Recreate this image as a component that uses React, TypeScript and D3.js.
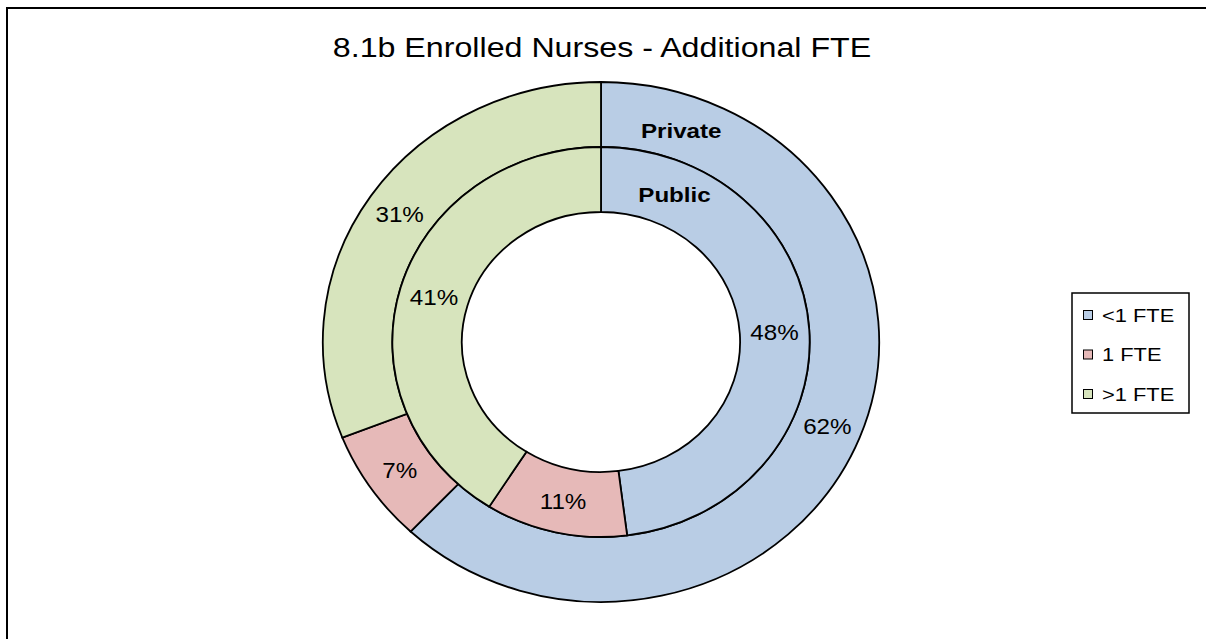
import React from "react";
import * as d3 from "d3";

const categories = ["<1 FTE", "1 FTE", ">1 FTE"];
const privateValues = [62, 7, 31];
const publicValues = [48, 11, 41];
const seriesNames = ["Private", "Public"];
const colors = ["#B9CDE5", "#E6B9B8", "#D7E4BD"];

const W = 1206;
const H = 639;
const cx = 601;
const cy = 342;
const stretch = 1.07; // the donut is slightly wider than tall
const rOuter = 260;
const rMid = 195;
const rHole = 130;

const pie = d3
	.pie<number>()
	.sort(null)
	.value((d) => d);

function Ring({ values, inner, outer }: { values: number[]; inner: number; outer: number }) {
	const arc = d3.arc<d3.PieArcDatum<number>>().innerRadius(inner).outerRadius(outer);
	const arcs = pie(values);
	return (
		<g>
			{arcs.map((a, i) => (
				<path
					key={i}
					d={arc(a) || ""}
					fill={colors[i]}
					stroke="#000"
					strokeWidth={1.8}
					vectorEffect="non-scaling-stroke"
				/>
			))}
		</g>
	);
}

function ringLabels(values: number[], inner: number, outer: number) {
	const arc = d3.arc<d3.PieArcDatum<number>>().innerRadius(inner).outerRadius(outer);
	return pie(values).map((a) => {
		const [x, y] = arc.centroid(a);
		const total = d3.sum(values);
		return {
			x: cx + x * stretch,
			y: cy + y,
			text: Math.round((a.data / total) * 100) + "%",
		};
	});
}

function Label({ x, y, text, size, bold, sx }: any) {
	return (
		<text
			transform={`translate(${x},${y}) scale(${sx},1)`}
			textAnchor="middle"
			dy="0.36em"
			fontSize={size}
			fontWeight={bold ? "bold" : "normal"}
			fill="#000"
		>
			{text}
		</text>
	);
}

export default function App() {
	const outerLabels = ringLabels(privateValues, rMid, rOuter);
	const innerLabels = ringLabels(publicValues, rHole, rMid);

	// series name positions sit inside each ring, just right of twelve o'clock
	const nameAt = (angleDeg: number, r: number) => {
		const t = (angleDeg * Math.PI) / 180;
		return { x: cx + r * Math.sin(t) * stretch, y: cy - r * Math.cos(t) };
	};
	const privPos = nameAt(19.5, (rMid + rOuter) / 2 - 3);
	const pubPos = nameAt(25, (rHole + rMid) / 2);

	const legendY = d3.scalePoint<string>().domain(categories).range([315, 394]);

	return (
		<svg
			width={W}
			height={H}
			style={{ position: "absolute", left: 0, top: 0, background: "#fff" }}
			fontFamily="'Liberation Sans', Arial, sans-serif"
		>
			<rect x={7} y={8} width={W + 20} height={H + 20} fill="#fff" stroke="#000" strokeWidth={2} />

			<Label x={602} y={47} text="8.1b Enrolled Nurses - Additional FTE" size={28} sx={1.15} />

			<g transform={`translate(${cx},${cy}) scale(${stretch},1)`}>
				<Ring values={privateValues} inner={rMid} outer={rOuter} />
				<Ring values={publicValues} inner={rHole} outer={rMid} />
			</g>

			{outerLabels.map((l, i) => (
				<Label key={"o" + i} x={l.x} y={l.y} text={l.text} size={22} sx={1.1} />
			))}
			{innerLabels.map((l, i) => (
				<Label key={"i" + i} x={l.x} y={l.y} text={l.text} size={22} sx={1.1} />
			))}
			<Label x={privPos.x} y={privPos.y} text={seriesNames[0]} size={21} bold sx={1.15} />
			<Label x={pubPos.x} y={pubPos.y} text={seriesNames[1]} size={21} bold sx={1.15} />

			<g>
				<rect x={1072} y={293} width={117} height={120} fill="#fff" stroke="#000" strokeWidth={1.5} />
				{categories.map((c, i) => (
					<g key={c} transform={`translate(0,${legendY(c)})`}>
						<rect x={1083.5} y={-4.5} width={9} height={9} fill={colors[i]} stroke="#000" strokeWidth={1} />
						<text
							x={0}
							y={0}
							dy="0.36em"
							fontSize={19}
							transform="translate(1102,0) scale(1.15,1) translate(-1102,0)"
						>
							<tspan x={1102}>{c}</tspan>
						</text>
					</g>
				))}
			</g>
		</svg>
	);
}
